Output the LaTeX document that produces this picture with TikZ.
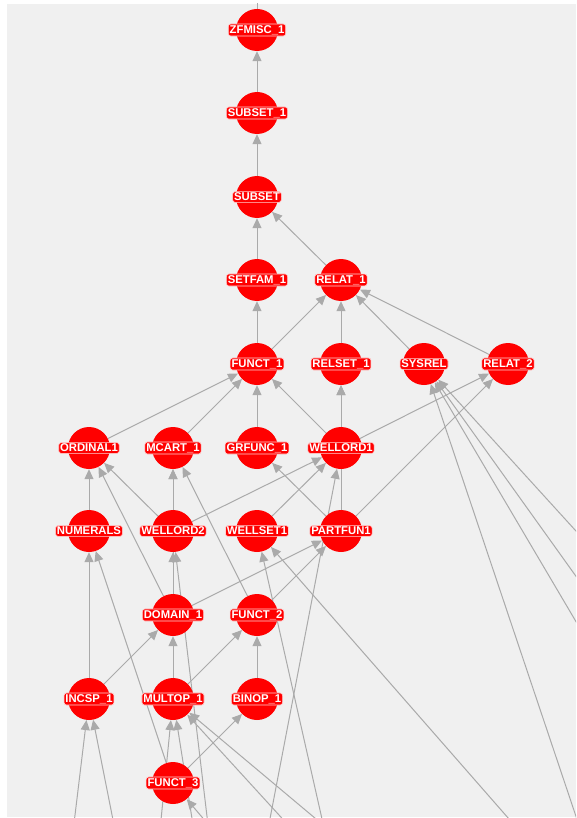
\documentclass[tikz,border=0pt]{standalone}
\usepackage{fontspec}
\setmainfont{Liberation Sans}
\usetikzlibrary{arrows.meta}
\definecolor{canvas}{RGB}{240,240,240}
\definecolor{linkgray}{RGB}{170,170,170}
\definecolor{vred}{RGB}{255,0,0}
\definecolor{halo}{RGB}{255,210,210}
\pgfdeclarelayer{canvaslayer}
\pgfdeclarelayer{linklayer}
\pgfsetlayers{canvaslayer,linklayer,main}
\tikzset{
  vtx/.style={circle, fill=vred, minimum size=42pt, inner sep=0pt},
  tag/.style={fill=vred, draw=halo, line width=0.6pt, text=white,
    font=\bfseries\fontsize{11.3}{13}\selectfont, inner sep=1.4pt, rounded corners=2.5pt},
  link/.style={draw=linkgray, line width=1pt, -{Triangle[length=10pt,width=9pt]}}
}
% one article: circle plus its name tag
\newcommand\article[4]{\node[vtx] (#1) at (#2,#3) {}; \node[tag] at (#1) {#4};}
\begin{document}
\begin{tikzpicture}[x=1pt,y=-1pt]
\useasboundingbox (0,0) rectangle (576,818);
\begin{pgfonlayer}{canvaslayer}
  \fill[canvas] (7,4) rectangle (576,817);
\end{pgfonlayer}

% articles
\article{zfmisc}{257}{30}{ZFMISC\_1}
\article{subsetone}{257}{113}{SUBSET\_1}
\article{subset}{257}{197}{SUBSET}
\article{setfam}{257}{280}{SETFAM\_1}
\article{relatone}{341}{280}{RELAT\_1}
\article{functone}{257}{364}{FUNCT\_1}
\article{relset}{341}{364}{RELSET\_1}
\article{sysrel}{424}{364}{SYSREL}
\article{relattwo}{508}{364}{RELAT\_2}
\article{ordinal}{89}{448}{ORDINAL1}
\article{mcart}{173}{448}{MCART\_1}
\article{grfunc}{257}{448}{GRFUNC\_1}
\article{wellordone}{341}{448}{WELLORD1}
\article{numerals}{89}{531}{NUMERALS}
\article{wellordtwo}{173}{531}{WELLORD2}
\article{wellset}{257}{531}{WELLSET1}
\article{partfun}{341}{531}{PARTFUN1}
\article{domain}{173}{615}{DOMAIN\_1}
\article{functtwo}{257}{615}{FUNCT\_2}
\article{incsp}{89}{699}{INCSP\_1}
\article{multop}{173}{699}{MULTOP\_1}
\article{binop}{257}{699}{BINOP\_1}
\article{functthree}{173}{783}{FUNCT\_3}

% ends of links that leave the frame
\coordinate (upzf) at (257,-20);
\coordinate (inA) at (72,840);
\coordinate (inB) at (117,840);
\coordinate (muA) at (158,850);
\coordinate (muB) at (197,850);
\coordinate (muC) at (311,850);
\coordinate (muD) at (353,850);
\coordinate (fuC) at (230,850);
\coordinate (woB) at (211,850);
\coordinate (wsA) at (329,850);
\coordinate (wsB) at (537,851);
\coordinate (woA) at (264,850);
\coordinate (syA) at (592,864);
\coordinate (syB) at (601,664);
\coordinate (syC) at (603,614);
\coordinate (syD) at (606,564);

\begin{pgfonlayer}{linklayer}
\begin{scope}
  \clip (7,4) rectangle (576,817);
  \draw[draw=linkgray, line width=1pt] (zfmisc) -- (upzf);
  \draw[link] (subsetone) -- (zfmisc);
  \draw[link] (subset) -- (subsetone);
  \draw[link] (setfam) -- (subset);
  \draw[link] (relatone) -- (subset);
  \draw[link] (functone) -- (setfam);
  \draw[link] (functone) -- (relatone);
  \draw[link] (relset) -- (relatone);
  \draw[link] (sysrel) -- (relatone);
  \draw[link] (relattwo) -- (relatone);
  \draw[link] (ordinal) -- (functone);
  \draw[link] (mcart) -- (functone);
  \draw[link] (grfunc) -- (functone);
  \draw[link] (wellordone) -- (functone);
  \draw[link] (wellordone) -- (relset);
  \draw[link] (wellordone) -- (relattwo);
  \draw[link] (partfun) -- (relattwo);
  \draw[link] (partfun) -- (relset);
  \draw[link] (partfun) -- (grfunc);
  \draw[link] (numerals) -- (ordinal);
  \draw[link] (wellordtwo) -- (ordinal);
  \draw[link] (domain) -- (ordinal);
  \draw[link] (wellordtwo) -- (mcart);
  \draw[link] (domain) -- (mcart);
  \draw[link] (functtwo) -- (mcart);
  \draw[link] (wellordtwo) -- (wellordone);
  \draw[link] (wellset) -- (wellordone);
  \draw[link] (domain) -- (wellordtwo);
  \draw[link] (domain) -- (partfun);
  \draw[link] (functtwo) -- (partfun);
  \draw[link] (incsp) -- (numerals);
  \draw[link] (functthree) -- (numerals);
  \draw[link] (incsp) -- (domain);
  \draw[link] (multop) -- (domain);
  \draw[link] (multop) -- (functtwo);
  \draw[link] (binop) -- (functtwo);
  \draw[link] (functthree) -- (binop);
  % links arriving from outside the frame
  \draw[link] (inA) -- (incsp);
  \draw[link] (inB) -- (incsp);
  \draw[link] (muA) -- (multop);
  \draw[link] (muB) -- (multop);
  \draw[link] (muC) -- (multop);
  \draw[link] (muD) -- (multop);
  \draw[link] (fuC) -- (functthree);
  \draw[link] (woB) -- (wellordtwo);
  \draw[link] (wsA) -- (wellset);
  \draw[link] (wsB) -- (wellset);
  \draw[link] (woA) -- (wellordone);
  \draw[link] (syA) -- (sysrel);
  \draw[link] (syB) -- (sysrel);
  \draw[link] (syC) -- (sysrel);
  \draw[link] (syD) -- (sysrel);
\end{scope}
\end{pgfonlayer}
\end{tikzpicture}
\end{document}
